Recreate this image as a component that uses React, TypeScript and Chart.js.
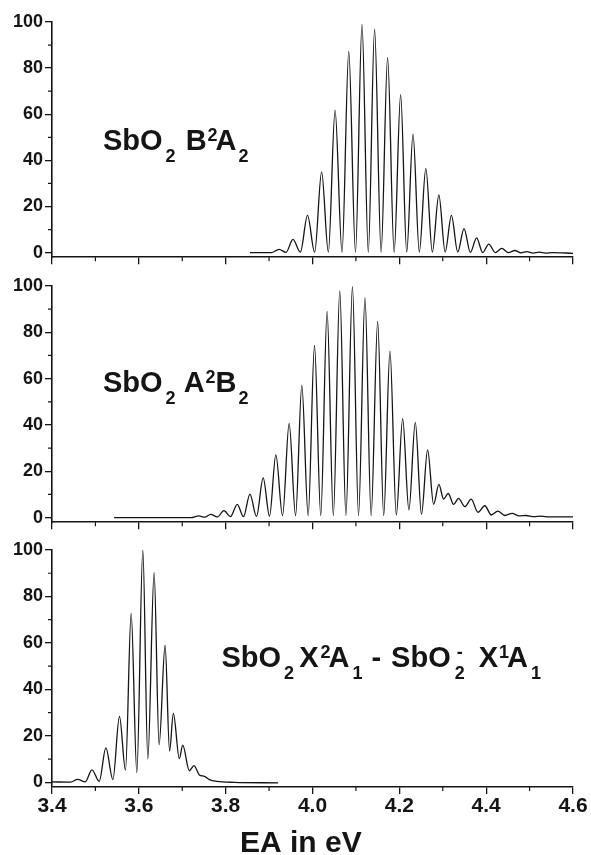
import React, { useEffect, useRef } from 'react';
import { Chart, registerables } from 'chart.js';

Chart.register(...registerables);

// ---- axis ticks ----
const xTicks = [3.4, 3.6, 3.8, 4.0, 4.2, 4.4, 4.6];
const xMinorTicks = [3.5, 3.7, 3.9, 4.1, 4.3, 4.5];
const yTicks = [0, 20, 40, 60, 80, 100];
const yMinorTicks = [10, 30, 50, 70, 90];

// ---- SbO2 B2A2 (top panel): peak / trough points ----
const b2a2Energy = [
  3.856, 3.905, 3.923, 3.939, 3.955, 3.972, 3.9885, 4.005, 4.021, 4.0365, 4.052, 4.068,
  4.0835, 4.099, 4.114, 4.1285, 4.143, 4.158, 4.173, 4.188, 4.203, 4.217, 4.2315, 4.246,
  4.261, 4.276, 4.291, 4.3055, 4.32, 4.3345, 4.349, 4.3635, 4.378, 4.392, 4.406, 4.421,
  4.436, 4.451, 4.466, 4.48, 4.494, 4.508, 4.522, 4.537, 4.552, 4.6,
];
const b2a2Intensity = [
  0, 0, 1.4, 0.1, 5.7, 0.2, 16.1, 0.2, 35, 0.2, 61.7, 0.2,
  87.3, 0.2, 99, 0.2, 96.9, 0.2, 84.7, 0.2, 68.5, 0.2, 51.4, 0.2,
  36.5, 0.2, 25, 0.2, 16.1, 0.2, 10.4, 0.1, 6.4, 0, 3.7, 0,
  1.8, 0, 0.9, -0.1, 0.4, -0.2, 0.2, -0.2, 0, -0.3,
];

// ---- SbO2 A2B2 (middle panel) ----
const a2b2Energy = [
  3.543, 3.72, 3.738, 3.752, 3.7655, 3.781, 3.796, 3.811, 3.8267, 3.841, 3.8559, 3.871,
  3.8864, 3.901, 3.9156, 3.931, 3.9462, 3.961, 3.9754, 3.99, 4.0046, 4.019, 4.0336, 4.048,
  4.0628, 4.077, 4.092, 4.106, 4.1209, 4.135, 4.1501, 4.164, 4.1784, 4.193, 4.2076, 4.222,
  4.2368, 4.251, 4.2651, 4.279, 4.2911, 4.302, 4.3126, 4.325, 4.3363, 4.351, 4.3655, 4.381,
  4.3968, 4.412, 4.4267, 4.443, 4.4598, 4.476, 4.492, 4.51, 4.527, 4.545, 4.6,
];
const a2b2Intensity = [
  0, 0, 0.7, 0.2, 1.4, 0.3, 3.0, 0.4, 5.7, 0.4, 10.1, 0.5,
  17.1, 0.6, 27.1, 0.8, 40.7, 0.8, 57.1, 0.9, 74.3, 0.9, 89, 0.9,
  97.9, 0.9, 99.7, 0.9, 95, 0.9, 84.7, 0.9, 71.9, 1.1, 42.7, 3.3,
  41.1, 1.4, 29.2, 5.7, 14.3, 8.0, 10.4, 5.7, 8.3, 4.7, 8.0, 2.3,
  5.1, 1.1, 2.8, 0.9, 1.8, 0.7, 0.9, 0.4, 0.6, 0.3, 0.3,
];

// ---- SbO2 X2A1 - SbO2- X1A1 (bottom panel) ----
const x2a1Energy = [
  3.4, 3.443, 3.4589, 3.4766, 3.492, 3.5087, 3.5241, 3.5402, 3.5554, 3.5692, 3.5823, 3.5954,
  3.6092, 3.6207, 3.6352, 3.6467, 3.6605, 3.6708, 3.6795, 3.6933, 3.7011, 3.7163, 3.7271, 3.7393,
  3.7508, 3.7623, 3.78, 3.82, 3.921,
];
const x2a1Intensity = [
  0.2, 0.1, 1.3, 0.2, 5.4, 0.4, 14.8, 1.2, 28.4, 5.3, 72.7, 4.2,
  100, 10, 90.3, 16.2, 59, 13.5, 29.7, 10.2, 16, 5, 7.2, 3.2,
  2.6, 1.2, 0.4, 0, -0.2,
];

type Seg = { t: string; k: 'n' | 'sub' | 'sup'; gap?: number; stack?: boolean };

const labelB2A2: Seg[] = [
  { t: 'SbO', k: 'n' }, { t: '2', k: 'sub', gap: 3 }, { t: 'B', k: 'n', gap: 10 },
  { t: '2', k: 'sup', gap: 1 }, { t: 'A', k: 'n', gap: -2 }, { t: '2', k: 'sub', gap: 2 },
];
const labelA2B2: Seg[] = [
  { t: 'SbO', k: 'n' }, { t: '2', k: 'sub', gap: 3 }, { t: 'A', k: 'n', gap: 8 },
  { t: '2', k: 'sup', gap: 1 }, { t: 'B', k: 'n', gap: 0 }, { t: '2', k: 'sub', gap: 2 },
];
const labelX2A1: Seg[] = [
  { t: 'SbO', k: 'n' }, { t: '2', k: 'sub', gap: 3 }, { t: 'X', k: 'n', gap: 5 },
  { t: '2', k: 'sup', gap: 2 }, { t: 'A', k: 'n', gap: -2 }, { t: '1', k: 'sub', gap: 3 },
  { t: '-', k: 'n', gap: 9 }, { t: 'SbO', k: 'n', gap: 10 }, { t: '2', k: 'sub', gap: 4 },
  { t: '-', k: 'sup', stack: true, gap: 2 }, { t: 'X', k: 'n', gap: 14 },
  { t: '1', k: 'sup', gap: 1 }, { t: 'A', k: 'n', gap: -2 }, { t: '1', k: 'sub', gap: 3 },
];

const FONT = '"Liberation Sans", Arial, Helvetica, sans-serif';
const INK = '#151515';

function drawFormula(ctx: CanvasRenderingContext2D, x0: number, base: number, segs: Seg[]) {
  let x = x0;
  let prevStart = x0;
  ctx.save();
  ctx.fillStyle = INK;
  ctx.textAlign = 'left';
  ctx.textBaseline = 'alphabetic';
  for (const s of segs) {
    const fs = s.k === 'n' ? 29 : 18;
    ctx.font = `bold ${fs}px ${FONT}`;
    const sx = s.stack ? prevStart + (s.gap ?? 0) : x + (s.gap ?? 0);
    const dy = s.k === 'sub' ? 12 : s.k === 'sup' ? -9 : 0;
    ctx.fillText(s.t, sx, base + dy);
    const w = ctx.measureText(s.t).width;
    if (!s.stack) {
      prevStart = sx;
      x = sx + w;
    } else {
      x = Math.max(x, sx + w);
    }
  }
  ctx.restore();
}

type PanelSpec = {
  energy: number[];
  intensity: number[];
  label: Seg[];
  labelX: number;
  labelBase: number; // relative to canvas
  top: number;
  height: number;
  padTop: number;
  xHeight: number;
  showX: boolean;
};

const panels: PanelSpec[] = [
  { energy: b2a2Energy, intensity: b2a2Intensity, label: labelB2A2, labelX: 103, labelBase: 150, top: 0, height: 270, padTop: 22, xHeight: 10, showX: false },
  { energy: a2b2Energy, intensity: a2b2Intensity, label: labelA2B2, labelX: 103, labelBase: 392 - 270, top: 270, height: 265, padTop: 16, xHeight: 11, showX: false },
  { energy: x2a1Energy, intensity: x2a1Intensity, label: labelX2A1, labelX: 221.5, labelBase: 666.5 - 535, top: 535, height: 320, padTop: 15, xHeight: 68, showX: true },
];

function Panel({ spec }: { spec: PanelSpec }) {
  const ref = useRef<HTMLCanvasElement | null>(null);
  useEffect(() => {
    const canvas = ref.current;
    if (!canvas) return;
    const minorPlugin = {
      id: 'minorTicksAndText',
      afterDraw(chart: any) {
        const ctx: CanvasRenderingContext2D = chart.ctx;
        const xs = chart.scales.x;
        const ys = chart.scales.y;
        const area = chart.chartArea;
        ctx.save();
        ctx.strokeStyle = INK;
        ctx.lineWidth = 1.2;
        ctx.beginPath();
        for (const v of xMinorTicks) {
          const px = xs.getPixelForValue(v);
          ctx.moveTo(px, area.bottom);
          ctx.lineTo(px, area.bottom + 4);
        }
        for (const v of yMinorTicks) {
          const py = ys.getPixelForValue(v);
          ctx.moveTo(area.left - 4, py);
          ctx.lineTo(area.left, py);
        }
        ctx.stroke();
        ctx.restore();
        drawFormula(ctx, spec.labelX, spec.labelBase, spec.label);
        if (spec.showX) {
          ctx.save();
          ctx.fillStyle = INK;
          ctx.font = `bold 30px ${FONT}`;
          ctx.textAlign = 'left';
          ctx.textBaseline = 'alphabetic';
          ctx.fillText('EA in eV', 240, 852 - spec.top);
          ctx.restore();
        }
      },
    };
    const data = spec.energy.map((x, i) => ({ x, y: spec.intensity[i] }));
    const chart = new Chart(canvas, {
      type: 'line',
      data: {
        datasets: [
          {
            data,
            borderColor: INK,
            borderWidth: 1.3,
            pointRadius: 0,
            fill: false,
            cubicInterpolationMode: 'monotone',
          },
        ],
      },
      options: {
        animation: false,
        responsive: false,
        devicePixelRatio: 1,
        parsing: false,
        layout: { padding: { top: spec.padTop, left: 0, right: 18, bottom: 0 } },
        plugins: { legend: { display: false }, tooltip: { enabled: false }, title: { display: false } },
        scales: {
          x: {
            type: 'linear',
            min: 3.4,
            max: 4.6,
            afterBuildTicks: (s: any) => {
              s.ticks = xTicks.map((v) => ({ value: v }));
            },
            afterFit: (s: any) => {
              s.height = spec.xHeight;
            },
            ticks: {
              display: spec.showX,
              color: INK,
              padding: 0,
              maxRotation: 0,
              autoSkip: false,
              font: { family: FONT, weight: 'bold', size: 21 },
              callback: (v: any) => Number(v).toFixed(1),
            },
            grid: { drawOnChartArea: false, drawTicks: true, tickLength: 7, color: INK, lineWidth: 1.3 },
            border: { display: true, color: INK, width: 1.6 },
          },
          y: {
            type: 'linear',
            min: -2,
            max: 100,
            afterBuildTicks: (s: any) => {
              s.ticks = yTicks.map((v) => ({ value: v }));
            },
            afterFit: (s: any) => {
              s.width = 52;
            },
            ticks: {
              color: INK,
              padding: 2,
              autoSkip: false,
              font: { family: FONT, weight: 'bold', size: 18 },
            },
            grid: { drawOnChartArea: false, drawTicks: true, tickLength: 7, color: INK, lineWidth: 1.3 },
            border: { display: true, color: INK, width: 1.6 },
          },
        },
      } as any,
      plugins: [minorPlugin],
    });
    return () => chart.destroy();
  }, [spec]);
  return (
    <canvas
      ref={ref}
      width={591}
      height={spec.height}
      style={{ position: 'absolute', left: 0, top: spec.top, width: 591, height: spec.height, display: 'block' }}
    />
  );
}

export default function App() {
  return (
    <div style={{ position: 'absolute', left: 0, top: 0, width: 591, height: 855, background: '#fff', overflow: 'hidden' }}>
      {panels.map((p, i) => (
        <Panel key={i} spec={p} />
      ))}
    </div>
  );
}
